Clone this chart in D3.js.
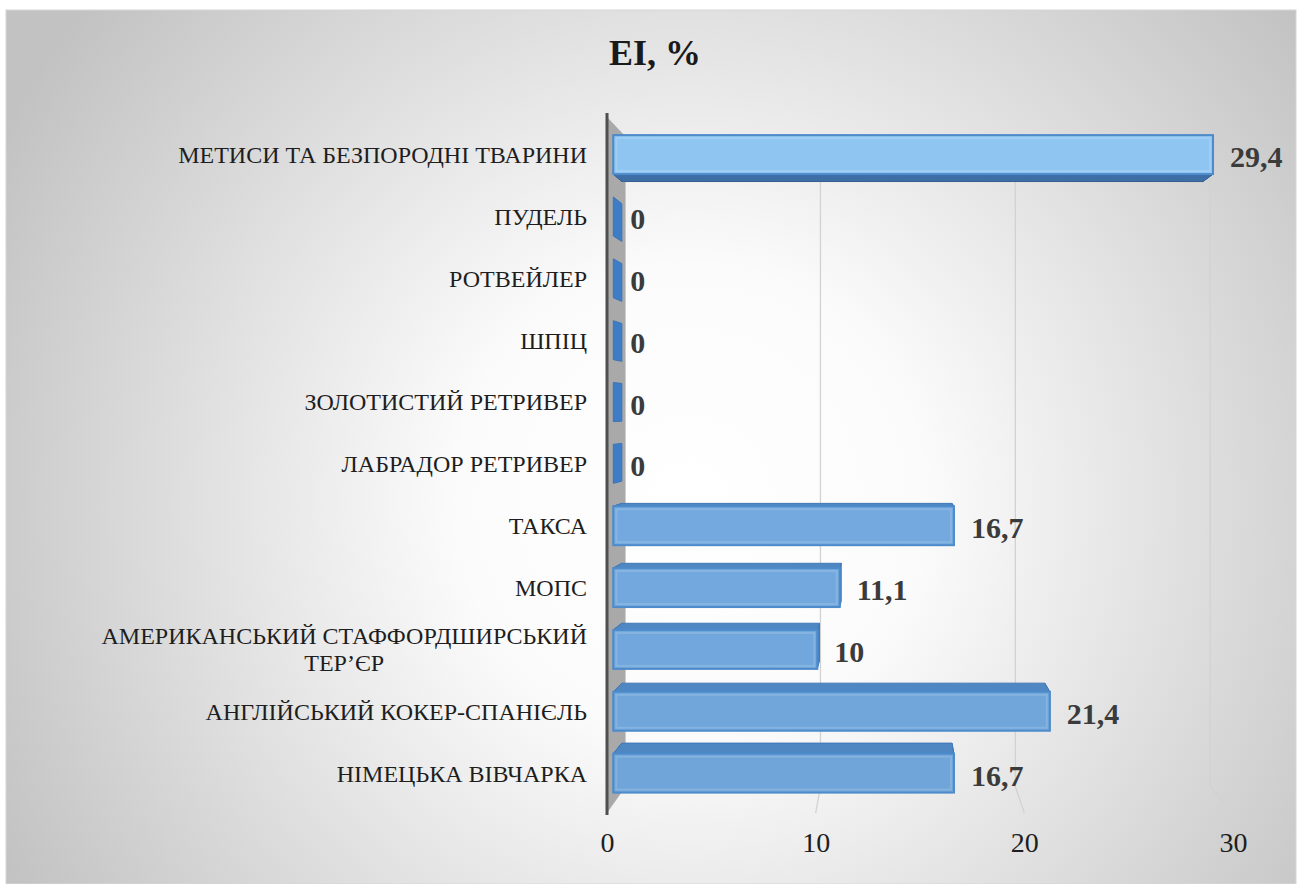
<!DOCTYPE html>
<html>
<head>
<meta charset="utf-8">
<script src="https://cdn.jsdelivr.net/npm/d3@7"></script>
<style>
  html, body { margin: 0; padding: 0; background: #ffffff; }
  svg { display: block; }
  svg text { font-family: "Liberation Serif", "Times New Roman", Times, serif; }
</style>
</head>
<body>
<svg id="chart" width="1306" height="884"></svg>
<script>
// Breeds (bottom to top) and their EI values, %
const categories = [
  "НІМЕЦЬКА ВІВЧАРКА",
  "АНГЛІЙСЬКИЙ КОКЕР-СПАНІЄЛЬ",
  "АМЕРИКАНСЬКИЙ СТАФФОРДШИРСЬКИЙ ТЕР’ЄР",
  "МОПС",
  "ТАКСА",
  "ЛАБРАДОР РЕТРИВЕР",
  "ЗОЛОТИСТИЙ РЕТРИВЕР",
  "ШПІЦ",
  "РОТВЕЙЛЕР",
  "ПУДЕЛЬ",
  "МЕТИСИ ТА БЕЗПОРОДНІ ТВАРИНИ"
];
const values = [16.7, 21.4, 10, 11.1, 16.7, 0, 0, 0, 0, 0, 29.4];
const xTicks = [0, 10, 20, 30];
const title = "EI, %";

const svg = d3.select("#chart");
const defs = svg.append("defs");

// chart area background: soft radial gradient, white in the middle
const bg = defs.append("radialGradient")
  .attr("id", "bgGrad").attr("gradientUnits", "userSpaceOnUse")
  .attr("cx", 690).attr("cy", 500).attr("r", 780);
bg.append("stop").attr("offset", 0).attr("stop-color", "#ffffff");
bg.append("stop").attr("offset", 0.3).attr("stop-color", "#fbfbfb");
bg.append("stop").attr("offset", 1).attr("stop-color", "#c2c2c2");

svg.append("rect").attr("x", 6).attr("y", 10).attr("width", 1290).attr("height", 874)
  .attr("fill", "url(#bgGrad)").attr("stroke", "#d6d6d6").attr("stroke-width", 1);

// front-plane scales
const x = d3.scaleLinear().domain([0, 30]).range([607, 1233]);
const y = d3.scaleBand().domain(categories).range([813, 117])
  .paddingInner(0.37).paddingOuter(0.185);

// simple perspective: points recede toward a vanishing point as depth z grows (0 front, 1 back)
const VP = [888, 414];
const DEPTH = 0.066;
function proj(px, py, z) {
  const s = 1 - DEPTH * z;
  return [VP[0] + (px - VP[0]) * s, VP[1] + (py - VP[1]) * s];
}
const Z0 = 0.34, Z1 = 0.80;   // depth span of the bars
const yTop = 117, yFloor = 813;

const line = d3.line();

// gridlines: along the floor, then up the back wall
const grid = svg.append("g");
xTicks.filter(v => v > 0).forEach(v => {
  const a = proj(x(v), yFloor, 0), b = proj(x(v), yFloor, 1), c = proj(x(v), yTop, 1);
  grid.append("path").attr("d", line([a, b, c]))
    .attr("fill", "none").attr("stroke", "#d2d2d2").attr("stroke-width", 1.3);
});

// left side wall
const wall = svg.append("g");
wall.append("path")
  .attr("d", line([proj(x(0), yTop, 0), proj(x(0), yTop, 1), proj(x(0), yFloor, 1), proj(x(0), yFloor, 0)]) + "Z")
  .attr("fill", "#a9a9a9");
wall.append("line").attr("x1", x(0)).attr("x2", x(0)).attr("y1", yTop - 4).attr("y2", yFloor + 2)
  .attr("stroke", "#4f4f4f").attr("stroke-width", 3);

// bars as boxes
const frontColor = d3.scaleLinear().domain([150, 500, 800])
  .range(["#8fc5f1", "#74aadf", "#6ea4d8"]);
const bars = svg.append("g");
categories.forEach((cat, i) => {
  const v = values[i];
  const x0 = x(0), x1 = x(v);
  const y0 = y(cat), y1 = y(cat) + y.bandwidth();
  const g = bars.append("g");
  const poly = pts => line(pts) + "Z";
  // end faces
  g.append("path").attr("d", poly([proj(x0, y0, Z0), proj(x0, y0, Z1), proj(x0, y1, Z1), proj(x0, y1, Z0)]))
    .attr("fill", "#3e7dc6").attr("stroke", "#3a74b8").attr("stroke-width", 1);
  if (v > 0) {
    g.append("path").attr("d", poly([proj(x1, y0, Z0), proj(x1, y0, Z1), proj(x1, y1, Z1), proj(x1, y1, Z0)]))
      .attr("fill", "#4a85c5").attr("stroke", "#3f78ba").attr("stroke-width", 1);
    // top or underside, whichever faces the eye
    if (y1 < VP[1]) {
      g.append("path").attr("d", poly([proj(x0, y1, Z0), proj(x1, y1, Z0), proj(x1, y1, Z1), proj(x0, y1, Z1)]))
        .attr("fill", "#3d6ea6").attr("stroke", "#365f92").attr("stroke-width", 1);
    } else if (y0 > VP[1]) {
      g.append("path").attr("d", poly([proj(x0, y0, Z0), proj(x1, y0, Z0), proj(x1, y0, Z1), proj(x0, y0, Z1)]))
        .attr("fill", "#4f87c3").attr("stroke", "#4079b8").attr("stroke-width", 1);
    }
    // front face
    const a = proj(x0, y0, Z0), b = proj(x1, y1, Z0);
    const fc = frontColor((a[1] + b[1]) / 2);
    g.append("rect").attr("x", a[0]).attr("y", a[1]).attr("width", b[0] - a[0]).attr("height", b[1] - a[1])
      .attr("fill", fc).attr("stroke", "#4d8bcb").attr("stroke-width", 2);
    g.append("rect").attr("x", a[0] + 3).attr("y", a[1] + 3).attr("width", b[0] - a[0] - 6).attr("height", b[1] - a[1] - 6)
      .attr("fill", "none").attr("stroke", "#ffffff").attr("stroke-opacity", 0.15).attr("stroke-width", 2);
  }
});

// value labels
const fmt = v => String(v).replace(".", ",");
svg.append("g").selectAll("text").data(categories).join("text")
  .attr("x", (d, i) => proj(x(values[i]), 0, Z0)[0] + 17)
  .attr("y", d => proj(0, y(d) + y.bandwidth() / 2, Z0)[1] + 2)
  .attr("dy", "0.35em")
  .attr("font-size", 30).attr("font-weight", "bold").attr("fill", "#3b3b3b")
  .text((d, i) => fmt(values[i]));

// category labels, right-aligned block, wrapped lines centred on each other
const labelRight = 587;
const catG = svg.append("g");
categories.forEach(cat => {
  const cy = proj(0, y(cat) + y.bandwidth() / 2, Z0)[1];
  const t = catG.append("text").attr("font-size", 24).attr("fill", "#1e1e1e");
  const words = cat.split(" ");
  const lines = [];
  let cur = [];
  words.forEach(w => {
    t.text([...cur, w].join(" "));
    if (cur.length && t.node().getComputedTextLength() > 520) { lines.push(cur.join(" ")); cur = [w]; }
    else cur.push(w);
  });
  lines.push(cur.join(" "));
  const widths = lines.map(l => { t.text(l); return t.node().getComputedTextLength(); });
  t.text(null);
  const maxW = d3.max(widths);
  const lh = 27;
  const startY = cy - (lines.length - 1) * lh / 2;
  lines.forEach((l, k) => {
    t.append("tspan").attr("x", lines.length > 1 ? labelRight - maxW / 2 : labelRight)
      .attr("y", startY + k * lh).attr("dy", "0.35em").text(l);
  });
  t.attr("text-anchor", lines.length > 1 ? "middle" : "end");
});

// value axis tick labels
const axis = d3.axisBottom(x).tickValues(xTicks).tickSize(0).tickPadding(0).tickFormat(d3.format("d"));
const axG = svg.append("g").attr("transform", "translate(0,832)").call(axis);
axG.select(".domain").remove();
axG.attr("font-family", null);
axG.selectAll("text").attr("font-size", 28).attr("fill", "#1e1e1e");

// title
svg.append("text").attr("x", 655).attr("y", 52).attr("dy", "0.35em").attr("text-anchor", "middle")
  .attr("font-size", 36).attr("font-weight", "bold").attr("fill", "#1a1a1a")
  .text(title);
</script>
</body>
</html>
